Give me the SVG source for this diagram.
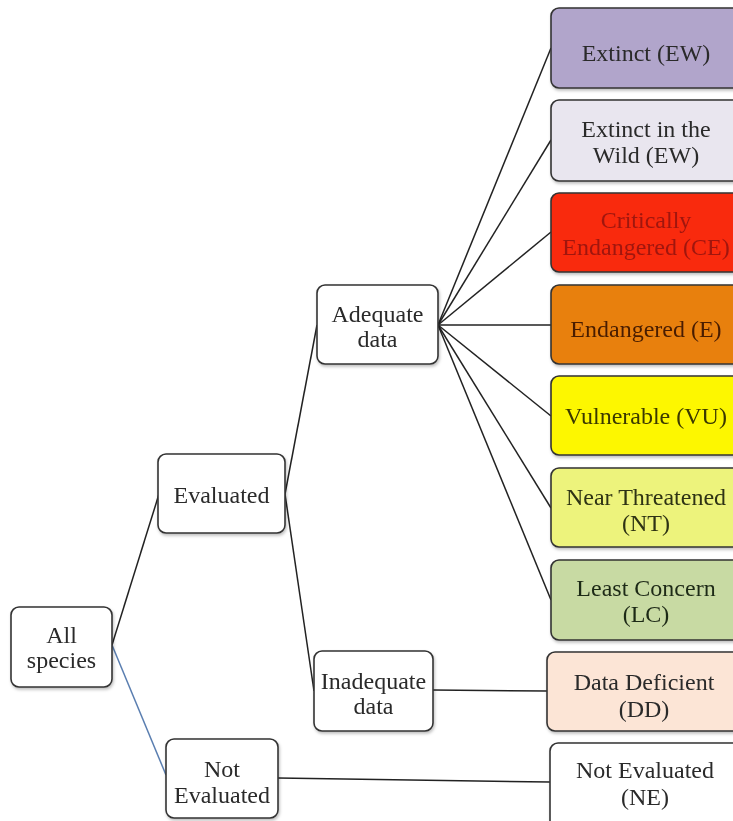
<svg xmlns="http://www.w3.org/2000/svg" width="733" height="821" viewBox="0 0 733 821">
<defs>
<style>
.box{stroke:#333;stroke-width:1.6}
.lbl{font-family:"Liberation Serif","Times New Roman",serif;font-size:24px;text-anchor:middle;fill:#2a2a2a}
.edge{stroke:#222;stroke-width:1.5;fill:none}
</style>
<filter id="sh" x="-10%" y="-10%" width="130%" height="130%">
<feDropShadow dx="1" dy="2" stdDeviation="1.5" flood-color="#000" flood-opacity="0.25"/>
</filter>
</defs>
<rect width="733" height="821" fill="#fff"/>
<g id="connectors">
<line class="edge" x1="112" y1="645" x2="159" y2="494"/>
<line class="edge" x1="112" y1="645" x2="166" y2="775" style="stroke:#5a7eb0"/>
<line class="edge" x1="285" y1="494" x2="317" y2="325"/>
<line class="edge" x1="285" y1="494" x2="314" y2="691"/>
<line class="edge" x1="438" y1="325" x2="551" y2="48"/>
<line class="edge" x1="438" y1="325" x2="551" y2="140"/>
<line class="edge" x1="438" y1="325" x2="551" y2="232"/>
<line class="edge" x1="438" y1="325" x2="551" y2="325"/>
<line class="edge" x1="438" y1="325" x2="551" y2="416"/>
<line class="edge" x1="438" y1="325" x2="551" y2="508"/>
<line class="edge" x1="438" y1="325" x2="551" y2="600"/>
<line class="edge" x1="433" y1="690" x2="547" y2="691"/>
<line class="edge" x1="278" y1="778" x2="550" y2="782"/>
</g>
<g id="all-species" filter="url(#sh)">
<rect class="box" x="11" y="607" width="101" height="80" rx="8" fill="#fff"/>
<text class="lbl" x="61.5" y="643">All</text>
<text class="lbl" x="61.5" y="668">species</text>
</g>
<g id="evaluated" filter="url(#sh)">
<rect class="box" x="158" y="454" width="127" height="79" rx="8" fill="#fff"/>
<text class="lbl" x="221.5" y="503">Evaluated</text>
</g>
<g id="not-evaluated" filter="url(#sh)">
<rect class="box" x="166" y="739" width="112" height="79" rx="8" fill="#fff"/>
<text class="lbl" x="222" y="777">Not</text>
<text class="lbl" x="222" y="803">Evaluated</text>
</g>
<g id="adequate-data" filter="url(#sh)">
<rect class="box" x="317" y="285" width="121" height="79" rx="8" fill="#fff"/>
<text class="lbl" x="377.5" y="322">Adequate</text>
<text class="lbl" x="377.5" y="347">data</text>
</g>
<g id="inadequate-data" filter="url(#sh)">
<rect class="box" x="314" y="651" width="119" height="80" rx="8" fill="#fff"/>
<text class="lbl" x="373.5" y="689">Inadequate</text>
<text class="lbl" x="373.5" y="714">data</text>
</g>
<g id="extinct" filter="url(#sh)">
<rect class="box" x="551" y="8" width="192" height="80" rx="8" fill="#b1a5cb"/>
<text class="lbl" x="646" y="61" fill="#2a2536">Extinct (EW)</text>
</g>
<g id="extinct-wild" filter="url(#sh)">
<rect class="box" x="551" y="100" width="192" height="81" rx="8" fill="#e9e6ef"/>
<text class="lbl" x="646" y="137">Extinct in the</text>
<text class="lbl" x="646" y="163">Wild (EW)</text>
</g>
<g id="critically-endangered" filter="url(#sh)">
<rect class="box" x="551" y="193" width="192" height="79" rx="8" fill="#f9290c" stroke="#5a1a10"/>
<text class="lbl" x="646" y="228" style="fill:#a01808">Critically</text>
<text class="lbl" x="646" y="255" style="fill:#a01808">Endangered (CE)</text>
</g>
<g id="endangered" filter="url(#sh)">
<rect class="box" x="551" y="285" width="192" height="79" rx="8" fill="#e8800f" stroke="#5a2e08"/>
<text class="lbl" x="646" y="337" style="fill:#4a1e02">Endangered (E)</text>
</g>
<g id="vulnerable" filter="url(#sh)">
<rect class="box" x="551" y="376" width="192" height="79" rx="8" fill="#fdf700"/>
<text class="lbl" x="646" y="424" style="fill:#3a3800">Vulnerable (VU)</text>
</g>
<g id="near-threatened" filter="url(#sh)">
<rect class="box" x="551" y="468" width="192" height="79" rx="8" fill="#edf37c"/>
<text class="lbl" x="646" y="505" style="fill:#2e3312">Near Threatened</text>
<text class="lbl" x="646" y="531" style="fill:#2e3312">(NT)</text>
</g>
<g id="least-concern" filter="url(#sh)">
<rect class="box" x="551" y="560" width="192" height="80" rx="8" fill="#c8daa3"/>
<text class="lbl" x="646" y="596" style="fill:#1f2a18">Least Concern</text>
<text class="lbl" x="646" y="622" style="fill:#1f2a18">(LC)</text>
</g>
<g id="data-deficient" filter="url(#sh)">
<rect class="box" x="547" y="652" width="196" height="79" rx="8" fill="#fce5d6"/>
<text class="lbl" x="644" y="690">Data Deficient</text>
<text class="lbl" x="644" y="717">(DD)</text>
</g>
<g id="not-evaluated-ne" filter="url(#sh)">
<rect class="box" x="550" y="743" width="193" height="90" rx="8" fill="#fff"/>
<text class="lbl" x="645" y="778">Not Evaluated</text>
<text class="lbl" x="645" y="805">(NE)</text>
</g>
</svg>
